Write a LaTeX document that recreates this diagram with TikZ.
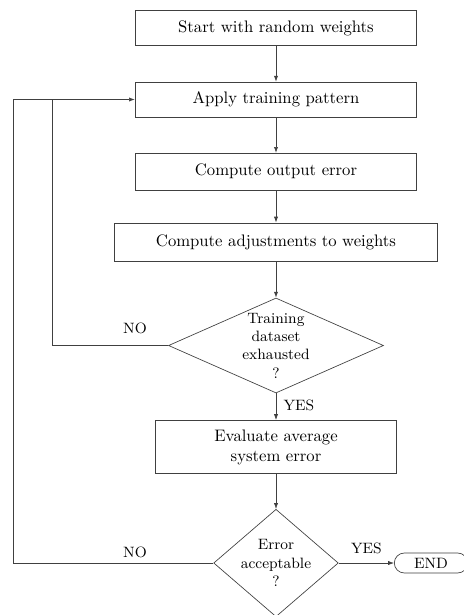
\documentclass[tikz,border=0pt]{standalone}
\usepackage{tikz}
\usetikzlibrary{arrows.meta, positioning, shapes.geometric, shapes.misc}
\tikzset{
    procbox/.style={rectangle, draw=black!75, thin, fill=white, minimum width=169pt, minimum height=21pt, inner sep=2pt, font=\normalsize, align=center},
    decnode/.style={diamond, draw=black!75, thin, fill=white, inner sep=0pt, font=\small, align=center},
    termnode/.style={rounded rectangle, draw=black!75, thin, fill=white, minimum width=46pt, minimum height=12pt, inner sep=1pt, font=\small},
    lbl/.style={font=\small},
    flow/.style={draw=black!75, thin, -{Latex[length=3.5pt, width=2.5pt]}},
    back/.style={draw=black!75, thin},
}
\begin{document}
\begin{tikzpicture}[x=0.6pt, y=-0.6pt]
    \clip (0,0) rectangle (464,615);
    \fill[white] (0,0) rectangle (464,615);
    \node[procbox] (start) at (276,28) {Start with random weights};
    \node[procbox] (apply) at (276,99.5) {Apply training pattern};
    \node[procbox, minimum height=22pt] (outerr) at (276,171.5) {Compute output error};
    \node[procbox, minimum width=194pt, minimum height=23pt] (adjust) at (276,242) {Compute adjustments to weights};
    \node[decnode, aspect=2.26, minimum width=129pt, minimum height=57pt] (exhausted) at (276,345.5)
        {\baselineskip=6.5pt Training\\dataset\\exhausted\\?};
    \node[procbox, minimum width=145pt, minimum height=32pt, text width=130pt] (evaluate) at (276,447)
        {\baselineskip=10pt Evaluate average\\system error};
    \node[decnode, aspect=1.16, minimum width=72pt, minimum height=62pt] (acceptable) at (276,563)
        {\baselineskip=7.5pt Error\\acceptable\\?};
    \node[termnode] (finish) at (431,563) {END};

    \draw[flow] (start) -- (apply);
    \draw[flow] (apply) -- (outerr);
    \draw[flow] (outerr) -- (adjust);
    \draw[flow] (adjust) -- (exhausted);
    \draw[flow] (exhausted) -- node[lbl, right=1pt, pos=0.45] {YES} (evaluate);
    \draw[flow] (evaluate) -- (acceptable);
    \draw[flow] (acceptable) -- node[lbl, above=2pt] {YES} (finish);

    % loops back to the training pattern
    \coordinate (inner) at (52,345.5);
    \coordinate (outer) at (13,563);
    \draw[back] (exhausted.west) -- (inner) -- (inner |- apply.west);
    \draw[flow] (acceptable.west) -- (outer) |- (apply.west);
    \node[lbl] (no1) at (135,328) {NO};
    \node[lbl] (no2) at (135,552) {NO};
\end{tikzpicture}
\end{document}
